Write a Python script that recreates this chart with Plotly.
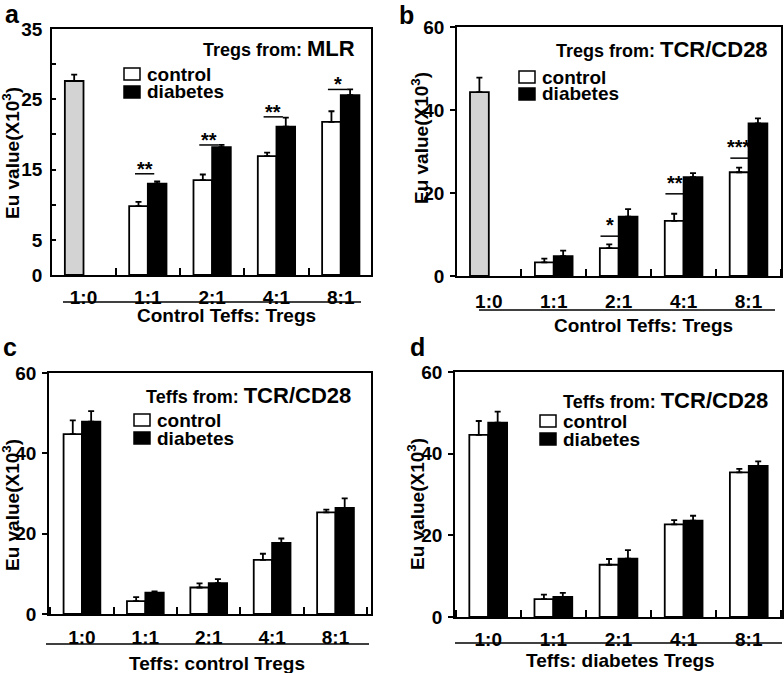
import plotly.graph_objects as go

W, H = 784, 673
FONT = "Liberation Sans, Arial, sans-serif"

categories = ["1:0", "1:1", "2:1", "4:1", "8:1"]

# Panel a (Tregs from MLR)
gray_a = [27.6]
gray_err_a = [0.9]
control_a = [None, 9.8, 13.5, 16.9, 21.8]
control_err_a = [0, 0.6, 0.8, 0.5, 1.5]
diabetes_a = [None, 13.0, 18.2, 21.1, 25.6]
diabetes_err_a = [0, 0.3, 0.3, 1.3, 0.8]
sig_a_group = [1, 2, 3, 4]
sig_a_level = [14.4, 18.5, 22.5, 26.4]
sig_a_stars = ["**", "**", "**", "*"]

# Panel b (Tregs from TCR/CD28)
gray_b = [44.3]
gray_err_b = [3.5]
control_b = [None, 3.3, 6.7, 13.3, 25.0]
control_err_b = [0, 0.9, 0.9, 1.7, 1.1]
diabetes_b = [None, 4.8, 14.3, 23.8, 36.8]
diabetes_err_b = [0, 1.3, 1.8, 1.0, 1.2]
sig_b_group = [2, 3, 4]
sig_b_level = [9.6, 19.8, 28.4]
sig_b_stars = ["*", "**", "***"]

# Panel c (Teffs: control Tregs)
control_c = [44.8, 3.2, 6.6, 13.5, 25.3]
control_err_c = [3.4, 1.0, 1.0, 1.5, 0.7]
diabetes_c = [47.9, 5.3, 7.7, 17.7, 26.4]
diabetes_err_c = [2.6, 0.3, 1.0, 1.1, 2.4]

# Panel d (Teffs: diabetes Tregs)
control_d = [44.6, 4.4, 12.8, 22.7, 35.4]
control_err_d = [3.4, 1.1, 1.4, 1.0, 0.9]
diabetes_d = [47.6, 4.9, 14.3, 23.6, 37.0]
diabetes_err_d = [2.7, 1.0, 2.1, 1.2, 1.1]

y_ticks_a = [0, 5, 15, 25, 35]
y_ticks_60 = [0, 20, 40, 60]


def P(x):
    return x / W


def Q(y):
    return 1 - y / H


BW = 0.29
xs = list(range(len(categories)))
FS = 19
LW = 1.8

panels = [
    dict(key="a", dom=(52, 371, 29, 275), xr=[-0.49, 4.47], yr=[0, 35],
         gray=(gray_a, gray_err_a), ctrl=(control_a, control_err_a), diab=(diabetes_a, diabetes_err_a),
         yt=y_ticks_a, yticks="inside", yminor=5, standoff=4,
         head=("Tregs from:", "MLR", 357, 49), leg=(124, 74, 92),
         xtitle=("Control Teffs: Tregs", 226, 315), uline=(63, 361, 302),
         ytitle=(11, 153), letter=(12, 14),
         sig=(sig_a_group, sig_a_level, sig_a_stars, -0.2, 0.1)),
    dict(key="b", dom=(457, 781, 27, 276), xr=[-0.49, 4.50], yr=[0, 60],
         gray=(gray_b, gray_err_b), ctrl=(control_b, control_err_b), diab=(diabetes_b, diabetes_err_b),
         yt=y_ticks_60, yticks="outside", yminor=None, standoff=7,
         head=("Tregs from:", "TCR/CD28", 770, 50), leg=(519, 77, 94),
         xtitle=("Control Teffs: Tregs", 643, 325), uline=(479, 775, 310),
         ytitle=(420, 138), letter=(406, 15),
         sig=(sig_b_group, sig_b_level, sig_b_stars, -0.28, 0.0)),
    dict(key="c", dom=(49, 371, 373, 614), xr=[-0.52, 4.56], yr=[0, 60],
         gray=None, ctrl=(control_c, control_err_c), diab=(diabetes_c, diabetes_err_c),
         yt=y_ticks_60, yticks="outside", yminor=None, standoff=5,
         head=("Teffs from:", "TCR/CD28", 353, 395), leg=(134, 420, 438),
         xtitle=("Teffs: control Tregs", 217, 663), uline=(46, 369, 644),
         ytitle=(11, 505), letter=(10, 347), sig=None),
    dict(key="d", dom=(455, 782, 372, 617), xr=[-0.51, 4.51], yr=[0, 60],
         gray=None, ctrl=(control_d, control_err_d), diab=(diabetes_d, diabetes_err_d),
         yt=y_ticks_60, yticks="outside", yminor=None, standoff=4,
         head=("Teffs from:", "TCR/CD28", 770, 400), leg=(540, 421, 439),
         xtitle=("Teffs: diabetes Tregs", 620, 660), uline=(455, 782, 643),
         ytitle=(416, 504), letter=(417, 347), sig=None),
]

fig = go.Figure()
shapes = []
annotations = []
layout = {}

bar_line = dict(color="black", width=LW)


def err(vals):
    return dict(type="data", symmetric=False, array=vals, arrayminus=[0] * len(vals),
                color="black", thickness=LW, width=3)


for i, p in enumerate(panels):
    n = i + 1
    xa = "x" if n == 1 else f"x{n}"
    ya = "y" if n == 1 else f"y{n}"
    xl = "xaxis" if n == 1 else f"xaxis{n}"
    yl = "yaxis" if n == 1 else f"yaxis{n}"
    x0, x1, y0, y1 = p["dom"]

    if p["gray"] is not None:
        gv, ge = p["gray"]
        fig.add_trace(go.Bar(x=xs[:1], y=gv, width=BW, offset=-BW, xaxis=xa, yaxis=ya,
                             marker=dict(color="#d3d3d3", line=bar_line),
                             error_y=err(ge), showlegend=False))
    cv, ce = p["ctrl"]
    dv, de = p["diab"]
    fig.add_trace(go.Bar(x=xs, y=cv, width=BW, offset=-BW, xaxis=xa, yaxis=ya,
                         marker=dict(color="white", line=bar_line),
                         error_y=err(ce), name="control", showlegend=False))
    fig.add_trace(go.Bar(x=xs, y=dv, width=BW, offset=0, xaxis=xa, yaxis=ya,
                         marker=dict(color="black", line=bar_line),
                         error_y=err(de), name="diabetes", showlegend=False))

    layout[xl] = dict(domain=[P(x0), P(x1)], range=p["xr"], anchor=ya, automargin=False,
                      showline=True, mirror=True, linecolor="black", linewidth=LW,
                      showgrid=False, zeroline=False, fixedrange=True,
                      tickmode="array", tickvals=xs, ticktext=categories, ticks="",
                      ticklabelstandoff=p["standoff"],
                      tickfont=dict(family=FONT, size=FS, color="black", weight="bold"),
                      minor=dict(tickmode="linear", tick0=0.5, dtick=1, ticks="inside",
                                 ticklen=7, tickwidth=LW, tickcolor="black", showgrid=False))
    ydict = dict(domain=[Q(y1), Q(y0)], range=p["yr"], anchor=xa, automargin=False,
                 showline=True, mirror=True, linecolor="black", linewidth=LW,
                 showgrid=False, zeroline=False, fixedrange=True,
                 tickmode="array", tickvals=p["yt"], ticks=p["yticks"],
                 ticklen=5 if p["yticks"] == "outside" else 4, tickwidth=LW, tickcolor="black",
                 ticklabelstandoff=2 if p["yticks"] == "outside" else 4,
                 tickfont=dict(family=FONT, size=FS, color="black", weight="bold"))
    if p["yminor"]:
        ydict["minor"] = dict(tickmode="linear", tick0=0, dtick=p["yminor"], ticks="inside",
                              ticklen=4, tickwidth=LW, tickcolor="black", showgrid=False)
    layout[yl] = ydict

    # header text
    t1, t2, hx, hy = p["head"]
    annotations.append(dict(xref="paper", yref="paper", x=P(hx), y=Q(hy), xanchor="right",
                            yanchor="middle", showarrow=False,
                            text=f"<b>{t1} <span style='font-size:22px'>{t2}</span></b>",
                            font=dict(family=FONT, size=18, color="black")))
    # legend (manual)
    lx, ly1, ly2 = p["leg"]
    for ly, fill, label in [(ly1, "white", "control"), (ly2, "black", "diabetes")]:
        shapes.append(dict(type="rect", xref="paper", yref="paper",
                           x0=P(lx), x1=P(lx + 16), y0=Q(ly + 6), y1=Q(ly - 6),
                           fillcolor=fill, line=dict(color="black", width=1.5)))
        annotations.append(dict(xref="paper", yref="paper", x=P(lx + 21), y=Q(ly),
                                xanchor="left", yanchor="middle", showarrow=False,
                                text=f"<b>{label}</b>",
                                font=dict(family=FONT, size=FS, color="black")))
    # x title + underline
    tt, tx, ty = p["xtitle"]
    annotations.append(dict(xref="paper", yref="paper", x=P(tx), y=Q(ty), xanchor="center",
                            yanchor="middle", showarrow=False, text=f"<b>{tt}</b>",
                            font=dict(family=FONT, size=FS, color="black")))
    ux0, ux1, uy = p["uline"]
    shapes.append(dict(type="line", xref="paper", yref="paper", x0=P(ux0), x1=P(ux1),
                       y0=Q(uy), y1=Q(uy), line=dict(color="black", width=1.5)))
    # y title
    yx, yy = p["ytitle"]
    annotations.append(dict(xref="paper", yref="paper", x=P(yx), y=Q(yy), xanchor="center",
                            yanchor="middle", textangle=-90, showarrow=False,
                            text="<b>Eu value(X10<sup>3</sup>)</b>",
                            font=dict(family=FONT, size=19, color="black")))
    # panel letter
    lx_, ly_ = p["letter"]
    annotations.append(dict(xref="paper", yref="paper", x=P(lx_), y=Q(ly_), xanchor="center",
                            yanchor="middle", showarrow=False, text=f"<b>{p['key']}</b>",
                            font=dict(family=FONT, size=25, color="black")))
    # significance marks
    if p["sig"] is not None:
        groups, levels, stars, a0, a1 = p["sig"]
        for g, lev, st in zip(groups, levels, stars):
            shapes.append(dict(type="line", xref=xa, yref=ya, x0=g + a0, x1=g + a1,
                               y0=lev, y1=lev, line=dict(color="black", width=1.5)))
            annotations.append(dict(xref=xa, yref=ya, x=g + (a0 + a1) / 2, y=lev,
                                    xanchor="center", yanchor="bottom", showarrow=False,
                                    yshift=-8 if p["key"] == "a" else -2,
                                    text=f"<b>{st}</b>",
                                    font=dict(family=FONT, size=20, color="black")))

fig.update_layout(width=W, height=H, margin=dict(l=0, r=0, t=0, b=0, autoexpand=False),
                  template="none",
                  paper_bgcolor="white", plot_bgcolor="white",
                  barmode="overlay", showlegend=False,
                  shapes=shapes, annotations=annotations, **layout)

fig.write_html("out.html", config={"displayModeBar": False},
               post_script="document.body.style.margin='0px';document.body.style.overflow='hidden';")
